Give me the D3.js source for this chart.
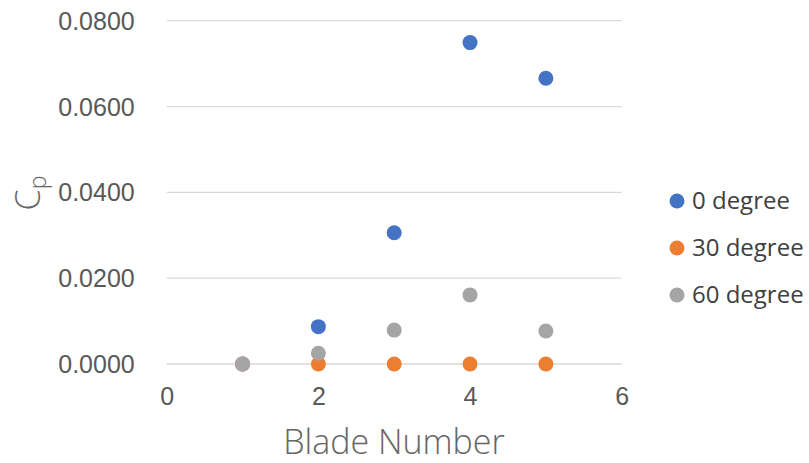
<!DOCTYPE html>
<html>
<head>
<meta charset="utf-8">
<script src="https://cdn.jsdelivr.net/npm/d3@7/dist/d3.min.js"></script>
<style>
  html, body { margin: 0; padding: 0; background: #ffffff; }
  svg { display: block; font-family: "Open Sans", "Noto Sans", sans-serif; }
</style>
</head>
<body>
<svg id="chart" width="809" height="463"></svg>
<script>
// Power coefficient by number of blades, for three blade angles
const bladeNumbers = [1, 2, 3, 4, 5];
const seriesNames = ["0 degree", "30 degree", "60 degree"];
const cp0 = [0.0000, 0.0087, 0.0306, 0.0749, 0.0666];
const cp30 = [0.0000, 0.0000, 0.0000, 0.0000, 0.0000];
const cp60 = [0.0000, 0.0025, 0.0079, 0.0161, 0.0077];
const seriesColors = ["#4472C4", "#ED7D31", "#A5A5A5"];
const xTicks = [0, 2, 4, 6];
const yTicks = [0, 0.02, 0.04, 0.06, 0.08];

const seriesValues = [cp0, cp30, cp60];
const series = seriesNames.map((name, i) => ({
  name,
  color: seriesColors[i],
  points: bladeNumbers.map((b, j) => ({ x: b, y: seriesValues[i][j] }))
}));

const svg = d3.select("#chart");
const x = d3.scaleLinear().domain([0, 6]).range([166.7, 621.7]);
const y = d3.scaleLinear().domain([0, 0.08]).range([364, 20.7]);

// horizontal gridlines
svg.append("g")
  .selectAll("line")
  .data(yTicks)
  .join("line")
  .attr("x1", x(0)).attr("x2", x(6))
  .attr("y1", d => y(d)).attr("y2", d => y(d))
  .attr("stroke", "#D9D9D9").attr("stroke-width", 1.3);

// y axis labels
const yAxis = d3.axisLeft(y).tickValues(yTicks).tickFormat(d3.format(".4f")).tickSize(0).tickPadding(32);
const gy = svg.append("g").attr("transform", `translate(${x(0)},0)`).call(yAxis);
gy.select(".domain").remove();
gy.selectAll("text").attr("fill", "#595959").style("font-size", "25px").attr("dy", "0.34em");

// x axis labels
const xAxis = d3.axisBottom(x).tickValues(xTicks).tickFormat(d3.format("d")).tickSize(0).tickPadding(23);
const gx = svg.append("g").attr("transform", `translate(0,${y(0)})`).call(xAxis);
gx.select(".domain").remove();
gx.selectAll("text").attr("fill", "#595959").style("font-size", "25px");

// markers
series.forEach(s => {
  svg.append("g")
    .selectAll("circle")
    .data(s.points)
    .join("circle")
    .attr("cx", d => x(d.x))
    .attr("cy", d => y(d.y))
    .attr("r", 7.5)
    .attr("fill", s.color);
});

// axis titles
svg.append("text")
  .attr("x", 394)
  .attr("y", 454)
  .attr("text-anchor", "middle")
  .attr("fill", "#666666")
  .style("font-size", "34px")
  .style("font-weight", 300)
  .text("Blade Number");

const yTitle = svg.append("text")
  .attr("transform", "translate(40,193) rotate(-90)")
  .attr("text-anchor", "middle")
  .attr("fill", "#666666")
  .style("font-size", "34px")
  .style("font-weight", 300);
yTitle.append("tspan").text("C");
yTitle.append("tspan").attr("dy", "0.25em").style("font-size", "23px").text("p");

// legend
const legend = svg.append("g")
  .selectAll("g")
  .data(series)
  .join("g")
  .attr("transform", (d, i) => `translate(677,${201 + i * 47})`);
legend.append("circle").attr("r", 7.5).attr("fill", d => d.color);
legend.append("text")
  .attr("x", 15)
  .attr("dy", "0.35em")
  .attr("fill", "#404040")
  .style("font-size", "24px")
  .text(d => d.name);
</script>
</body>
</html>
